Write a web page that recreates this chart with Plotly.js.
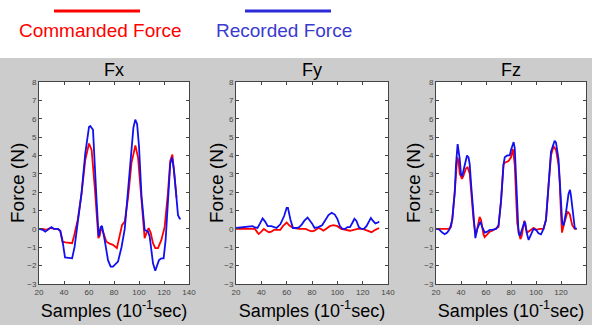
<!DOCTYPE html>
<html><head><meta charset="utf-8">
<script src="https://cdn.plot.ly/plotly-3.0.1.min.js"></script>
<style>html,body{margin:0;padding:0;background:#fff;}#chart{width:592px;height:325px;}</style>
</head><body><div id="chart"></div>
<script>
// ---- data ----
const seriesNames = ["Commanded Force", "Recorded Force"];
const panelTitles = ["Fx", "Fy", "Fz"];
const xTicks = [20, 40, 60, 80, 100, 120, 140];
const yTicks = [-3, -2, -1, 0, 1, 2, 3, 4, 5, 6, 7, 8];

const fxCmdX = [20,23,26,29,32,35,37,38.7,41.3,44,46.5,48,51,54,57,60,62.1,64.8,67.5,68.5,69.9,71.7,73.9,76.5,79.2,82.3,84.5,86.4,88.6,91.3,94,97.1,99.2,101.9,104.5,106.1,107.7,109.3,111.2,113,115.2,117.9,120.5,123.2,125,126.7,128.5,130];
const fxCmdY = [0,0,-0.05,0.05,0,0,-0.1,-0.7,-0.73,-0.75,-0.78,-0.4,0.5,1.9,3.75,4.65,4.3,2.1,-0.5,-0.4,0.1,-0.25,-0.7,-0.8,-0.87,-1.05,-0.4,0.2,0.4,1.75,3.6,4.55,3.9,1.75,-0.5,-0.2,0.05,-0.2,-0.78,-1.05,-1.05,-0.6,0.1,2.0,3.7,4.05,2.85,1.7];
const fxRecX = [20,23,25,28,30,32,35,37,38.7,40.8,44,46.5,48.5,51,54,57,58.5,60,61,63.2,65.9,67.7,69.4,70.4,72.5,75.2,77.3,79.2,83.2,86,88.6,91.3,94,95.5,97,98.5,100,102,104.5,107.2,108.5,109.9,111.2,113,114.4,116,117.9,119.7,121.3,123.2,125,126.4,128,129.9,131.2,132.5,133.3];
const fxRecY = [0,-0.05,-0.15,0,0.1,0,0,-0.1,-0.6,-1.55,-1.6,-1.6,-0.97,0.3,1.93,4.1,5.0,5.55,5.6,5.4,1.75,-0.4,0.1,0.17,-0.6,-1.7,-2.05,-2.05,-1.78,-1.0,0,2.1,4.3,5.5,5.95,5.7,4.5,1.8,-0.05,-0.15,-0.4,-1.15,-1.87,-2.28,-2.05,-1.7,-1.6,-1.6,-0.6,1.75,3.56,3.9,3.2,1.75,0.75,0.57,0.55];

const fyCmdX = [20,25,30,35,37,38,40,42,44,46,48,50,53,55,57,60,62,65,70,75,78,80,82,85,87,89,91,94,97,100,103,106,110,113,116,120,124,127,130,133];
const fyCmdY = [0,0,0,0,-0.2,-0.28,-0.15,0,-0.1,-0.18,-0.15,-0.05,-0.05,-0.05,0.15,0.35,0.2,0.05,0,0,-0.1,-0.13,-0.1,0.05,0,-0.1,0,0.15,0.2,0.15,0,-0.05,-0.1,-0.05,0,0,-0.1,-0.18,-0.05,0.05];
const fyRecX = [20,25,30,33,35,37,39,41,43,45,48,50,52,55,58,60,61,63,65,68,70,72,74,76.5,78,80,82,85,88,91,93,95.5,98,100,102,104,106,108,110,112,113.5,115,117,119,121,123,125,126.5,128,130,132,133];
const fyRecY = [0.05,0.1,0.12,0.15,0.08,0.05,0.3,0.57,0.4,0.15,0.15,0.1,0.05,0.25,0.7,1.15,1.15,0.5,0.05,0.05,0.1,0.25,0.45,0.62,0.5,0.3,0.05,0.1,0.2,0.5,0.75,0.88,0.78,0.55,0.15,0,0,0.1,0.1,0.35,0.55,0.45,0.1,0,0,0.15,0.4,0.6,0.45,0.3,0.35,0.4];

const fzCmdX = [20,30,32,33,35,36,37,38,39,40.8,42,44,45.3,47,48,50,51,52,53,54.9,56,57,58,58.9,61,63,65,68,70,72,74,75,78,80,81.5,83,84,85,87.5,88.5,89.5,90.7,92,93,95,98.1,100,103,106,108,110,112,114,116,118,119,120,120.8,122.5,125.3,127,129,131,132.5];
const fzCmdY = [0,0,0.1,0.5,2,3.2,3.9,3.7,3.0,2.73,2.9,3.3,3.35,3.0,2.0,0.5,0,-0.3,0,0.65,0.5,0,-0.3,-0.45,-0.3,-0.15,-0.1,0,0.1,1.5,3.5,3.6,3.7,3.9,4.35,3.5,2,0.3,-0.56,-0.4,0,0.45,0,-0.2,-0.1,0.05,-0.05,0,0,0.5,2.3,4.0,4.5,4.3,3.5,2.5,0.8,-0.2,0.3,0.95,0.8,0.2,0,0];
const fzRecX = [20,22,25,26.9,29,31,33,35,36,37.3,39,40,41,43,44.8,46,47,48,50,51,51.5,53,55.5,57,59,61,63,65,68,70,72,74,75,77,79,80,82.1,83,84,85,86,87,88,90.9,91.5,92.5,94.1,96,98,100,102,104,106,108,110,112,114.9,116,118,119,120,121,122.1,124,126,127.2,128,130,131,132.5];
const fzRecY = [0,0,-0.2,-0.29,-0.2,0,0.5,2,3.5,4.62,3.8,2.95,2.9,3.4,4.0,3.9,3.5,2.5,0.8,-0.2,-0.5,0,0.4,0.1,-0.2,-0.15,-0.05,-0.05,0,0.2,1.5,3.5,3.9,4.0,4.0,4.3,4.73,4.4,3,1,-0.2,-0.4,-0.2,0.4,0.3,-0.2,-0.6,-0.3,0,-0.05,-0.24,-0.3,0,0.5,2.5,4.2,4.8,4.7,3.8,2.5,1.2,0.3,0.2,0.9,1.9,2.13,1.8,0.5,0.05,0];

// ---- layout helpers ----
const W = 592, H = 325;
const fx = p => p / W;
const fy = p => 1 - p / H;
const RED = "#ff0000", BLUE = "#1010f0";
const FONT = "Liberation Sans, Arial, sans-serif";

const panels = [
  {cx: fxCmdX, cy: fxCmdY, rx: fxRecX, ry: fxRecY, x0: 39, x1: 189, ytx: 18},
  {cx: fyCmdX, cy: fyCmdY, rx: fyRecX, ry: fyRecY, x0: 236, x1: 388, ytx: 217},
  {cx: fzCmdX, cy: fzCmdY, rx: fzRecX, ry: fzRecY, x0: 436, x1: 586, ytx: 414}
];

const traces = [];
const layout = {
  width: W, height: H,
  margin: {l: 0, r: 0, t: 0, b: 0, pad: 0},
  paper_bgcolor: "#cccccc", plot_bgcolor: "#ffffff",
  showlegend: false,
  font: {family: FONT, color: "#000"},
  shapes: [
    {type: "rect", xref: "paper", yref: "paper", x0: -0.01, x1: 1.01, y0: fy(58), y1: 1.01, fillcolor: "#ffffff", line: {width: 0}, layer: "below"},
    {type: "line", xref: "paper", yref: "paper", x0: fx(54), x1: fx(140), y0: fy(11), y1: fy(11), line: {color: RED, width: 3}},
    {type: "line", xref: "paper", yref: "paper", x0: fx(245), x1: fx(331), y0: fy(11), y1: fy(11), line: {color: "#2a2ad8", width: 3}}
  ],
  annotations: [
    {text: seriesNames[0], xref: "paper", yref: "paper", x: fx(100), y: fy(30), showarrow: false, xanchor: "center", yanchor: "middle", font: {size: 19, color: RED, family: FONT}},
    {text: seriesNames[1], xref: "paper", yref: "paper", x: fx(284), y: fy(30), showarrow: false, xanchor: "center", yanchor: "middle", font: {size: 19, color: "#3a3ad0", family: FONT}}
  ]
};

panels.forEach((p, i) => {
  const n = i === 0 ? "" : String(i + 1);
  traces.push({x: p.cx, y: p.cy, type: "scatter", mode: "lines", name: seriesNames[0], xaxis: "x" + n, yaxis: "y" + n, line: {color: RED, width: 1.8}});
  traces.push({x: p.rx, y: p.ry, type: "scatter", mode: "lines", name: seriesNames[1], xaxis: "x" + n, yaxis: "y" + n, line: {color: BLUE, width: 1.8}});
  const common = {showline: true, mirror: "ticks", linecolor: "#444", linewidth: 1, ticks: "inside", ticklen: 3, tickcolor: "#444", showgrid: false, zeroline: false, automargin: false, tickfont: {size: 8, color: "#444", family: FONT}};
  layout["xaxis" + n] = Object.assign({}, common, {
    domain: [fx(p.x0), fx(p.x1)], range: [20, 140], tickvals: xTicks, anchor: "y" + n,
    title: {text: "Samples (10<sup>-1</sup>sec)", font: {size: 18, color: "#000", family: FONT}, standoff: 8}
  });
  layout["yaxis" + n] = Object.assign({}, common, {
    domain: [fy(284), fy(82)], range: [-3, 8], tickvals: yTicks, anchor: "x" + n
  });
  layout.annotations.push({text: "Force (N)", xref: "paper", yref: "paper", x: fx(p.ytx), y: fy(183), textangle: -90, showarrow: false, xanchor: "center", yanchor: "middle", font: {size: 19, color: "#000", family: FONT}});
  layout.annotations.push({text: panelTitles[i], xref: "paper", yref: "paper", x: fx((p.x0 + p.x1) / 2), y: fy(70), showarrow: false, xanchor: "center", yanchor: "middle", font: {size: 18, color: "#000", family: FONT}});
});

Plotly.newPlot("chart", traces, layout, {displayModeBar: false, staticPlot: true});
</script></body></html>
